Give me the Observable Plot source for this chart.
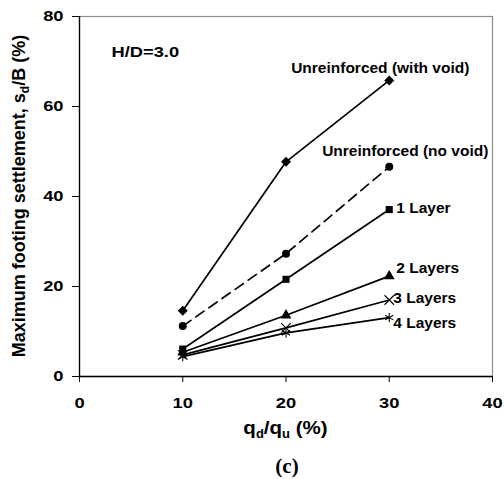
<!DOCTYPE html>
<html><head><meta charset="utf-8">
<script src="https://cdn.jsdelivr.net/npm/d3@7"></script>
<script src="https://cdn.jsdelivr.net/npm/@observablehq/plot@0.6"></script>
<style>body{margin:0;background:#fff}svg{display:block}</style>
</head><body><div id="chart"></div>
<script>
const xValues = [10, 20, 30];
const seriesNames = ["Unreinforced (with void)", "Unreinforced (no void)", "1 Layer", "2 Layers", "3 Layers", "4 Layers"];
const withVoid = [14.6, 47.7, 65.8];
const noVoid = [11.2, 27.3, 46.6];
const layer1 = [6.1, 21.6, 37.1];
const layer2 = [5.4, 13.6, 22.3];
const layer3 = [4.8, 10.8, 17.0];
const layer4 = [4.4, 9.7, 13.1];
const xTicks = [0, 10, 20, 30, 40];
const yTicks = [0, 20, 40, 60, 80];
const symbols = ["diamond", "circle", "square", "triangle", "times", "asterisk"];

const allSeries = [withVoid, noVoid, layer1, layer2, layer3, layer4];
const data = [];
allSeries.forEach((vals, i) => vals.forEach((v, j) => data.push({series: seriesNames[i], x: xValues[j], y: v, sym: symbols[i]})));
const solid = data.filter(d => d.series !== seriesNames[1]);
const dashed = data.filter(d => d.series === seriesNames[1]);
const last = name => data.filter(d => d.series === name && d.x === 30);

const font = "'Liberation Sans', Arial, sans-serif";
const labelStyle = {fontSize: 15.5, fontWeight: "bold", fill: "black", fontFamily: font};

const chart = Plot.plot({
  width: 504, height: 479,
  marginLeft: 79, marginRight: 12, marginTop: 16, marginBottom: 103,
  style: {fontFamily: font, fontWeight: "bold", fontSize: "15px", color: "black", background: "white"},
  x: {domain: [0, 40], ticks: xTicks, label: null},
  y: {domain: [0, 80], ticks: yTicks, label: null},
  symbol: {domain: symbols, range: symbols},
  marks: [
    Plot.frame({stroke: "#8c8c8c", strokeWidth: 1.2}),
    Plot.axisX({ticks: xTicks, tickSize: 6, tickPadding: 15, fontSize: 15, fontWeight: "bold", label: null}),
    Plot.axisY({ticks: yTicks, tickSize: 7, tickPadding: 9, fontSize: 15, fontWeight: "bold", label: null}),
    Plot.ruleX([0], {stroke: "black", strokeWidth: 1.3}),
    Plot.ruleY([0], {stroke: "black", strokeWidth: 1.3}),
    Plot.line(solid, {x: "x", y: "y", z: "series", stroke: "black", strokeWidth: 1.7}),
    Plot.line(dashed, {x: "x", y: "y", stroke: "black", strokeWidth: 1.7, strokeDasharray: "10,6"}),
    Plot.dot(data.filter(d => d.sym === "diamond"), {x: "x", y: "y", symbol: () => "square", rotate: 45, fill: "black", r: 4}),
    Plot.dot(data.filter(d => d.sym === "circle" || d.sym === "square" || d.sym === "triangle"), {x: "x", y: "y", symbol: "sym", fill: "black", r: 4}),
    Plot.dot(data.filter(d => d.sym === "times" || d.sym === "asterisk"), {x: "x", y: "y", symbol: "sym", stroke: "black", strokeWidth: 1.1, r: 4.4}),
    Plot.text(last(seriesNames[0]), {x: "x", y: "y", text: "series", dx: -9, dy: -12, textAnchor: "middle", ...labelStyle}),
    Plot.text(last(seriesNames[1]), {x: "x", y: "y", text: "series", dx: 16, dy: -16, textAnchor: "middle", ...labelStyle}),
    Plot.text(last(seriesNames[2]), {x: "x", y: "y", text: "series", dx: 7, dy: -2, textAnchor: "start", ...labelStyle}),
    Plot.text(last(seriesNames[3]), {x: "x", y: "y", text: "series", dx: 7, dy: -8, textAnchor: "start", ...labelStyle}),
    Plot.text(last(seriesNames[4]), {x: "x", y: "y", text: "series", dx: 4, dy: -2, textAnchor: "start", ...labelStyle}),
    Plot.text(last(seriesNames[5]), {x: "x", y: "y", text: "series", dx: 4, dy: 5, textAnchor: "start", ...labelStyle}),
    Plot.text(["H/D=3.0"], {frameAnchor: "top-left", dx: 32, dy: 29, textAnchor: "start", ...labelStyle, className: "hd"})
  ]
});
document.getElementById("chart").appendChild(chart);

const svg = d3.select(chart);
function stretch(sel, k) {
  sel.each(function() {
    const L = this.getComputedTextLength();
    this.setAttribute("textLength", L * k);
    this.setAttribute("lengthAdjust", "spacingAndGlyphs");
  });
}
stretch(svg.selectAll('g[aria-label="x-axis tick label"] text, g[aria-label="y-axis tick label"] text'), 1.22);
stretch(svg.selectAll('.hd text'), 1.18);

// x axis label with subscripts
const xl = svg.append("text").attr("x", 285.5).attr("y", 434).attr("text-anchor", "middle")
  .attr("font-family", font).attr("font-weight", "bold").attr("font-size", 19).attr("fill", "black");
xl.append("tspan").text("q");
xl.append("tspan").attr("font-size", 12).attr("dy", 4).text("d");
xl.append("tspan").attr("dy", -4).text("/q");
xl.append("tspan").attr("font-size", 12).attr("dy", 4).text("u");
xl.append("tspan").attr("dy", -4).text(" (%)");
stretch(xl, 1.08);
// y axis label with subscript
const yl = svg.append("text").attr("transform", "translate(25,196) rotate(-90)").attr("text-anchor", "middle")
  .attr("font-family", font).attr("font-weight", "bold").attr("font-size", 18).attr("fill", "black");
yl.append("tspan").text("Maximum footing settlement, s");
yl.append("tspan").attr("font-size", 12).attr("dy", 4).text("d");
yl.append("tspan").attr("dy", -4).text("/B (%)");
// caption
svg.append("text").attr("x", 287).attr("y", 473).attr("text-anchor", "middle")
  .attr("font-family", "'Liberation Serif', 'Times New Roman', serif").attr("font-weight", "bold").attr("font-size", 21).attr("fill", "black").text("(c)");
</script>
</body></html>
